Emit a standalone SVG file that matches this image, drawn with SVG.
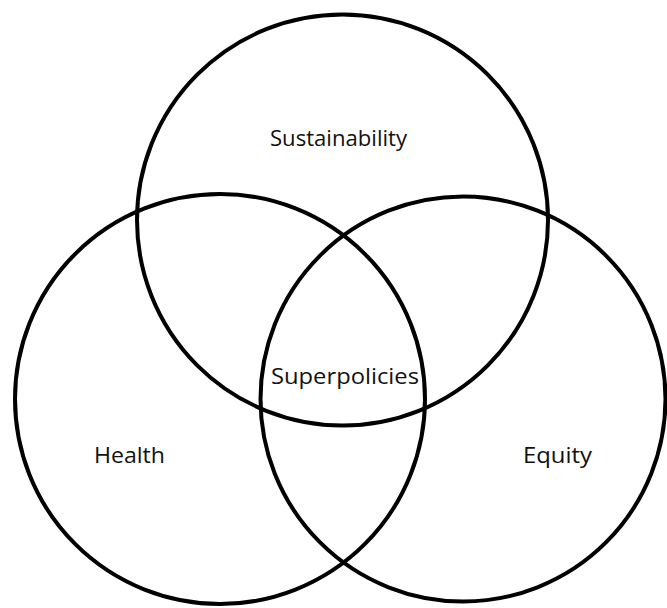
<svg xmlns="http://www.w3.org/2000/svg" width="667" height="608" viewBox="0 0 667 608">
<style>
.c{fill:none;stroke:#000;stroke-width:4}
.t{font-family:"Open Sans","DejaVu Sans",sans-serif;font-size:21px;fill:#111}
</style>
<rect width="667" height="608" fill="#fff"/>
<g id="sustainability"><circle class="c" cx="342.5" cy="220" r="205.5"/><text class="t" x="270" y="146" textLength="137" lengthAdjust="spacingAndGlyphs">Sustainability</text></g>
<g id="health"><circle class="c" cx="220" cy="399" r="205"/><text class="t" x="94" y="463" textLength="71" lengthAdjust="spacingAndGlyphs">Health</text></g>
<g id="equity"><circle class="c" cx="463" cy="399" r="202.5"/><text class="t" x="523" y="463" textLength="69" lengthAdjust="spacingAndGlyphs">Equity</text></g>
<g id="superpolicies"><text class="t" x="271" y="384" textLength="148" lengthAdjust="spacingAndGlyphs">Superpolicies</text></g>
<g id="connectors"></g>
</svg>
